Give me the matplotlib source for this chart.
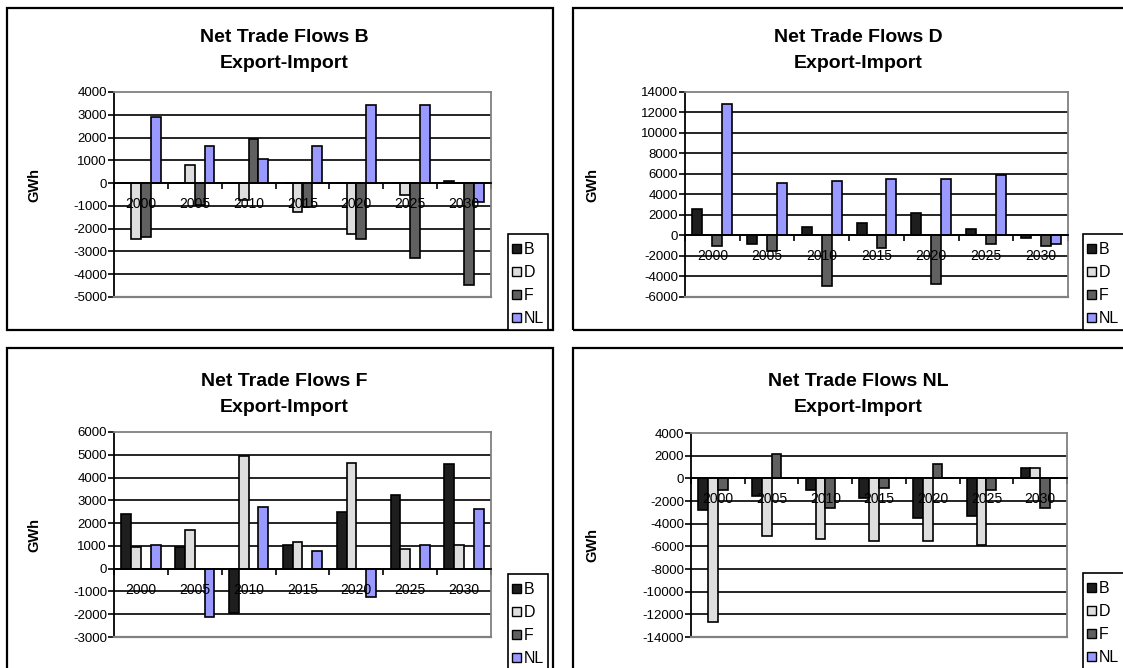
import numpy as np
import matplotlib
matplotlib.use("Agg")
import matplotlib.pyplot as plt
from matplotlib.patches import Rectangle, Patch

plt.rcParams['font.family'] = ['Liberation Sans', 'DejaVu Sans']

W, H = 1123, 668

years = ['2000', '2005', '2010', '2015', '2020', '2025', '2030']
series = ['B', 'D', 'F', 'NL']
colors = ['#1e1e1e', '#dedede', '#606060', '#9999ff']

# net trade flows, GWh (export - import)
flows_B = {
    'B': [0, 0, 0, 0, 0, 0, 100],
    'D': [-2470, 790, -735, -1250, -2220, -530, 0],
    'F': [-2365, -950, 1920, -1050, -2470, -3280, -4490],
    'NL': [2890, 1640, 1040, 1640, 3440, 3440, -810],
}
flows_D = {
    'B': [2560, -830, 820, 1180, 2170, 620, -230],
    'D': [0, 0, 0, 0, 0, 0, 0],
    'F': [-1030, -1550, -4970, -1180, -4770, -830, -1030],
    'NL': [12820, 5090, 5290, 5480, 5480, 5920, -830],
}
flows_F = {
    'B': [2380, 950, -1960, 1060, 2470, 3250, 4590],
    'D': [950, 1690, 4950, 1150, 4660, 880, 1040],
    'F': [0, 0, 0, 0, 0, 0, 0],
    'NL': [1040, -2130, 2720, 780, -1250, 1040, 2630],
}
flows_NL = {
    'B': [-2830, -1590, -1060, -1770, -3540, -3360, 885],
    'D': [-12710, -5130, -5310, -5490, -5490, -5840, 885],
    'F': [-1060, 2160, -2650, -885, 1270, -1060, -2650],
    'NL': [0, 0, 0, 0, 0, 0, 0],
}

panels = [
    # title country, data, y range, y step, frame box, plot box, legend box (x0, y0, x1), title pos, GWh pos (pixels)
    ('B', flows_B, (-5000, 4000), 1000, (7, 8, 553, 330), (114, 92, 491, 297), (508, 234, 548), (284, 37), (34, 185)),
    ('D', flows_D, (-6000, 14000), 2000, (573, 8, 1135, 330), (685, 92, 1068, 297), (1083, 234, 1130), (858, 37), (592, 185)),
    ('F', flows_F, (-3000, 6000), 1000, (7, 348, 553, 690), (114, 432, 491, 637), (508, 574, 548), (284, 381), (34, 535)),
    ('NL', flows_NL, (-14000, 4000), 2000, (573, 348, 1135, 690), (691, 433, 1067, 637), (1083, 573, 1130), (858, 381), (592, 545)),
]

fig = plt.figure(figsize=(W / 100, H / 100), dpi=100)


def fx(x):
    return x / W


def fy(y):
    return 1 - y / H


n = len(years)
bw = 1 / (len(series) + 1.5)
x = np.arange(n) + 0.5

for name, data, (ymin, ymax), step, frame, pbox, lbox, tpos, gpos in panels:
    # outer chart frame
    fig.patches.append(Rectangle((fx(frame[0]), fy(frame[3])), fx(frame[2] - frame[0]),
                                 (frame[3] - frame[1]) / H, transform=fig.transFigure,
                                 fill=False, edgecolor='black', linewidth=1.6))

    ax = fig.add_axes([fx(pbox[0]), fy(pbox[3]), fx(pbox[2] - pbox[0]), (pbox[3] - pbox[1]) / H])
    yt = np.arange(ymin, ymax + 1, step)
    for v in yt[1:-1]:
        ax.axhline(v, color='black', linewidth=1.2, zorder=0.5)

    handles = []
    for k, s in enumerate(series):
        ax.bar(x + (k - 1.5) * bw, data[s], width=bw, color=colors[k],
               edgecolor='black', linewidth=1.2, zorder=1)
        handles.append(Patch(facecolor=colors[k], edgecolor='black', linewidth=1.0, label=s))

    ax.set_xlim(0, n)
    ax.set_ylim(ymin, ymax)
    ax.set_yticks(yt)
    ax.set_yticklabels([str(v) for v in yt], fontsize=9.5)
    ax.tick_params(axis='y', direction='out', length=4, width=1.2, pad=1)

    ax.set_xticks(x)
    ax.set_xticklabels(years, fontsize=9.5)
    ax.set_xticks(np.arange(n + 1), minor=True)
    ax.tick_params(axis='x', which='major', length=0, pad=10)
    ax.tick_params(axis='x', which='minor', direction='out', length=4, width=1.2)

    ax.spines['bottom'].set_position(('data', 0))
    ax.spines['bottom'].set_linewidth(1.3)
    ax.spines['left'].set_linewidth(1.3)
    for sp in ['top', 'right']:
        ax.spines[sp].set_color('#808080')
        ax.spines[sp].set_linewidth(1.3)
    # bottom border of plot area (the bottom spine is used as the zero axis)
    ax.axhline(ymin, color='#808080', linewidth=1.6, zorder=3, clip_on=False)

    fig.text(fx(tpos[0]), fy(tpos[1]), 'Net Trade Flows ' + name, ha='center', va='center',
             fontsize=14, fontweight='bold')
    fig.text(fx(tpos[0]), fy(tpos[1] + 27), 'Export-Import', ha='center', va='center',
             fontsize=14, fontweight='bold')
    fig.text(fx(gpos[0]), fy(gpos[1]), 'GWh', ha='center', va='center', rotation=90,
             fontsize=10.5, fontweight='bold')

    # legend box runs down to the chart frame, as in the source chart
    fig.patches.append(Rectangle((fx(lbox[0]), fy(frame[3])), fx(lbox[2] - lbox[0]),
                                 (frame[3] - lbox[1]) / H, transform=fig.transFigure,
                                 facecolor='white', edgecolor='black', linewidth=1.2))
    fig.legend(handles=handles, loc='upper left', bbox_to_anchor=(fx(lbox[0] + 1), fy(lbox[1] + 5)),
               fontsize=11.5, frameon=False, handlelength=0.55, handleheight=0.55,
               handletextpad=0.15, labelspacing=0.5, borderpad=0.2, borderaxespad=0)

fig.savefig('out.png', dpi=100)
